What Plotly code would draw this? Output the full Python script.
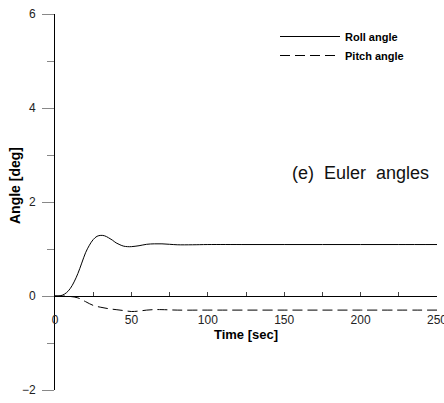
import plotly.graph_objects as go

# Data
roll_t = [0, 2.5, 5, 7.5, 10, 12.5, 15, 17.5, 20, 22.5, 25, 27.5, 30, 32.5, 35, 37.5,
          40, 42.5, 45, 47.5, 50, 55, 60, 65, 70, 75, 80, 90, 100, 125, 150, 175, 200, 225, 250]
roll_v = [0, 0.0, 0.02, 0.07, 0.16, 0.3, 0.48, 0.7, 0.92, 1.08, 1.2, 1.27, 1.29, 1.28, 1.24, 1.19,
          1.13, 1.09, 1.06, 1.05, 1.05, 1.07, 1.10, 1.11, 1.11, 1.10, 1.09, 1.09, 1.095, 1.095, 1.095,
          1.095, 1.095, 1.095, 1.095]
pitch_t = [0, 5, 10, 15, 20, 25, 30, 35, 40, 45, 50, 55, 60, 65, 70, 80, 100, 150, 200, 250]
pitch_v = [0, 0, -0.01, -0.04, -0.12, -0.2, -0.24, -0.27, -0.29, -0.31, -0.33, -0.32, -0.30,
           -0.29, -0.29, -0.30, -0.30, -0.30, -0.30, -0.30]

x_ticks = [0, 50, 100, 150, 200, 250]
y_ticks = [-2, 0, 2, 4, 6]

W, H = 444, 403
L, R, T, B = 55, 7, 14, 13
PW, PH = W - L - R, H - T - B

def px(x):
    return (x - L) / PW

def py(y):
    return (H - B - y) / PH

font = "Arial, Liberation Sans, sans-serif"

fig = go.Figure()
fig.add_trace(go.Scatter(x=roll_t, y=roll_v, mode="lines", name="Roll angle",
                         line=dict(color="black", width=1), line_shape="spline"))
fig.add_trace(go.Scatter(x=pitch_t, y=pitch_v, mode="lines", name="Pitch angle",
                         line=dict(color="black", width=1, dash="10px,5px"), line_shape="spline"))

fig.update_layout(
    width=W, height=H,
    margin=dict(l=L, r=R, t=T, b=B, autoexpand=False),
    paper_bgcolor="white", plot_bgcolor="white",
    font=dict(family=font, color="#222", size=12),
    showlegend=True,
    legend=dict(x=px(275), y=py(22), xanchor="left", yanchor="top",
                bgcolor="rgba(0,0,0,0)", font=dict(family=font, size=11, color="black", weight="bold"),
                itemwidth=60, tracegroupgap=0),
    xaxis=dict(range=[0, 250], anchor="free", position=0.25, showgrid=False, zeroline=False,
               showline=True, linecolor="black", linewidth=1, automargin=False,
               tickvals=x_ticks, ticks="inside", ticklen=4, tickcolor="#444",
               minor=dict(dtick=25, tick0=0, ticks="inside", ticklen=4, tickcolor="#444"),
               tickfont=dict(size=12, color="#222"), ticklabelstandoff=13,
               ticklabeloverflow="allow",
               title=dict(text="Time [sec]", font=dict(size=13, color="black", weight="bold"), standoff=2)),
    yaxis=dict(range=[-2, 6], domain=[0, 1], showgrid=False, zeroline=False,
               showline=True, linecolor="black", linewidth=1, automargin=False,
               tickvals=y_ticks, ticks="outside", ticklen=12, tickcolor="#888",
               minor=dict(dtick=1, tick0=0, ticks="outside", ticklen=7, tickcolor="#888"),
               tickfont=dict(size=12, color="#222"), ticklabelstandoff=4),
    annotations=[
        dict(text="Angle [deg]", xref="paper", yref="paper", x=px(15), y=py(186),
             textangle=-90, showarrow=False, xanchor="center", yanchor="middle",
             font=dict(size=14, color="black", weight="bold")),
        dict(text="(e)  Euler  angles", xref="paper", yref="paper", x=px(431), y=py(173),
             showarrow=False, xanchor="right", yanchor="middle",
             font=dict(size=18, color="#111")),
    ],
)

fig.write_html("out.html")
